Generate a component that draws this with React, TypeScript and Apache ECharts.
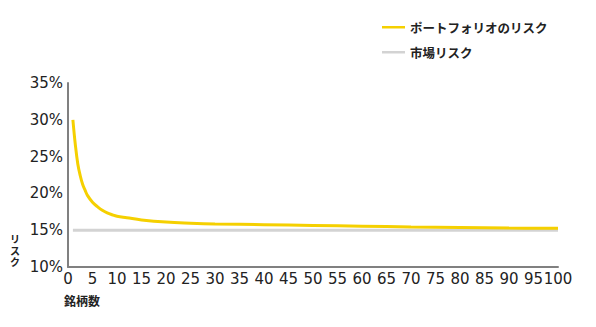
import React, { useEffect, useRef } from "react";
import * as echarts from "echarts";

const stockCounts = [1, 1.5, 2, 2.5, 3, 3.5, 4, 5, 6, 7, 8, 9, 10, 12, 15, 20, 25, 30, 40, 50, 60, 70, 80, 90, 100];
const portfolioRisk = [30.0, 26.6, 24.0, 22.4, 21.2, 20.4, 19.7, 18.8, 18.2, 17.7, 17.35, 17.1, 16.9, 16.7, 16.4, 16.1, 15.95, 15.85, 15.75, 15.65, 15.55, 15.45, 15.38, 15.3, 15.25];
const marketCounts = [1, 100];
const marketRisk = [15, 15];
const seriesNames = ["ポートフォリオのリスク", "市場リスク"];
const yAxisName = "リスク";
const xAxisName = "銘柄数";

export default function App() {
  const ref = useRef<HTMLDivElement>(null);
  useEffect(() => {
    if (!ref.current) return;
    const chart = echarts.init(ref.current, undefined, { renderer: "svg" });
    const cjk = "'Noto Sans CJK JP', sans-serif";
    const num = "'DejaVu Sans', sans-serif";
    chart.setOption({
      animation: false,
      backgroundColor: "#ffffff",
      grid: { left: 68, right: 38, top: 83, bottom: 60, containLabel: false },
      legend: {
        orient: "vertical",
        left: 382,
        top: 21,
        padding: 0,
        icon: "rect",
        itemWidth: 23,
        itemHeight: 2.5,
        itemGap: 12.5,
        textStyle: { fontFamily: cjk, fontWeight: "bold", fontSize: 12.5, color: "#222", padding: [0, 0, 0, 0] },
        data: seriesNames,
      },
      xAxis: {
        type: "value",
        min: 0,
        max: 100,
        interval: 5,
        axisLine: { show: true, lineStyle: { color: "#808080", width: 2 } },
        axisTick: { show: false },
        splitLine: { show: false },
        axisLabel: { color: "#222", fontFamily: num, fontSize: 15, lineHeight: 15, margin: 4 },
      },
      yAxis: {
        type: "value",
        min: 10,
        max: 35,
        interval: 5,
        axisLine: { show: true, lineStyle: { color: "#808080", width: 2 } },
        axisTick: { show: false },
        splitLine: { show: false },
        axisLabel: { color: "#222", fontFamily: num, fontSize: 15, margin: 5, formatter: "{value}%" },
      },
      graphic: [
        {
          type: "text",
          x: 15,
          y: 233,
          style: {
            text: yAxisName.split("").join("\n"),
            fontFamily: cjk,
            fontWeight: "bold",
            fontSize: 10,
            lineHeight: 11.5,
            fill: "#222",
            textAlign: "center",
            textVerticalAlign: "top",
          },
        },
        {
          type: "text",
          left: 64,
          top: 294,
          style: { text: xAxisName, fontFamily: cjk, fontWeight: "bold", fontSize: 12, fill: "#222" },
        },
      ],
      series: [
        {
          name: seriesNames[0],
          type: "line",
          smooth: 0.4,
          symbol: "none",
          lineStyle: { color: "#F5D000", width: 3 },
          itemStyle: { color: "#F5D000" },
          data: stockCounts.map((n, i) => [n, portfolioRisk[i]]),
          z: 3,
        },
        {
          name: seriesNames[1],
          type: "line",
          symbol: "none",
          lineStyle: { color: "#D3D3D3", width: 3 },
          itemStyle: { color: "#D3D3D3" },
          data: marketCounts.map((n, i) => [n, marketRisk[i]]),
          z: 2,
        },
      ],
    });
    return () => chart.dispose();
  }, []);
  return <div ref={ref} style={{ position: "fixed", left: 0, top: 0, width: 596, height: 327 }} />;
}
